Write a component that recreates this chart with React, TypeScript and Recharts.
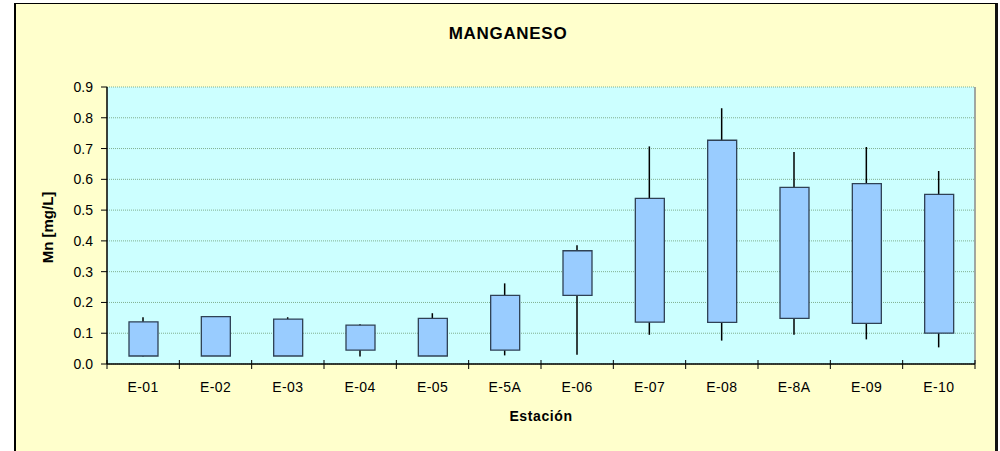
import React from "react";
import { ComposedChart, Bar, XAxis, YAxis, CartesianGrid, ReferenceLine } from "recharts";

// Mn por estación: mínimo, caja (inferior/superior) y máximo
const stations = ["E-01", "E-02", "E-03", "E-04", "E-05", "E-5A", "E-06", "E-07", "E-08", "E-8A", "E-09", "E-10"];
const minVals = [0.024, 0.026, 0.026, 0.024, 0.026, 0.028, 0.030, 0.095, 0.076, 0.095, 0.080, 0.054];
const boxLow = [0.026, 0.026, 0.026, 0.045, 0.026, 0.045, 0.223, 0.136, 0.135, 0.148, 0.132, 0.100];
const boxHigh = [0.137, 0.154, 0.146, 0.126, 0.148, 0.223, 0.368, 0.538, 0.727, 0.574, 0.586, 0.551];
const maxVals = [0.152, 0.154, 0.152, 0.129, 0.165, 0.262, 0.386, 0.707, 0.831, 0.689, 0.705, 0.627];
const yTicks = [0, 0.1, 0.2, 0.3, 0.4, 0.5, 0.6, 0.7, 0.8, 0.9];

const FONT = "Arial, 'Liberation Sans', sans-serif";
const X_TICK_MARGIN = 18;

const rows = stations.map((name, i) => ({
  name,
  whisker: [minVals[i], maxVals[i]],
  box: [boxLow[i], boxHigh[i]],
}));

// vertical line through the middle of the range bar
const Whisker = (props: any) => {
  const { x, y, width, height } = props;
  const cx = x + width / 2;
  return <line x1={cx} y1={y} x2={cx} y2={y + height} stroke="#000" strokeWidth={1.5} />;
};

// category label plus Excel-style tick marks on the category boundaries
const StationTick = (props: any) => {
  const { x, y, payload, index, visibleTicksCount, width } = props;
  const band = (typeof width === "number" ? width : 868) / (visibleTicksCount || stations.length);
  const axisY = y - X_TICK_MARGIN;
  const left = x - band / 2;
  const right = x + band / 2;
  return (
    <g>
      <line x1={left} y1={axisY - 4} x2={left} y2={axisY + 5} stroke="#000" />
      {index === (visibleTicksCount || stations.length) - 1 && (
        <line x1={right} y1={axisY - 4} x2={right} y2={axisY + 5} stroke="#000" />
      )}
      <text x={x} y={y} dy="0.71em" textAnchor="middle" fill="#000" fontSize={14} fontFamily={FONT} letterSpacing={0.4}>
        {payload.value}
      </text>
    </g>
  );
};

export default function App() {
  return (
    <div style={{ position: "absolute", left: 0, top: 0, width: 1000, height: 451, background: "#fff", overflow: "hidden", fontFamily: FONT }}>
      <div
        style={{
          position: "absolute",
          left: 14,
          top: 3,
          width: 979,
          height: 470,
          background: "#FFFFCC",
          borderLeft: "2px solid #000",
          borderTop: "1.5px solid #000",
          borderRight: "3px solid #111",
        }}
      />
      <div style={{ position: "absolute", left: 0, top: 0 }}>
        <ComposedChart width={1000} height={451} data={rows} margin={{ top: 87, right: 25, left: 47, bottom: 57 }}>
          <CartesianGrid vertical={false} fill="#CCFFFF" stroke="#80b090" strokeDasharray="1 1" />
          <XAxis
            xAxisId={0}
            dataKey="name"
            height={30}
            axisLine={{ stroke: "#000", strokeWidth: 1.5 }}
            tickLine={false}
            tickSize={0}
            tickMargin={X_TICK_MARGIN}
            interval={0}
            tick={<StationTick />}
          />
          <XAxis xAxisId="w" dataKey="name" hide />
          <YAxis
            domain={[0, 0.9]}
            ticks={yTicks}
            width={60}
            tickFormatter={(v: number) => v.toFixed(1)}
            axisLine={{ stroke: "#000", strokeWidth: 1.5 }}
            tickLine={{ stroke: "#000" }}
            tickSize={6}
            tickMargin={8}
            tick={{ fill: "#000", fontSize: 14, fontFamily: FONT }}
          />
          <ReferenceLine x={stations[stations.length - 1]} position="end" stroke="#8a8a8a" strokeWidth={1.5} />
          <Bar xAxisId="w" dataKey="whisker" barSize={10} shape={<Whisker />} isAnimationActive={false} />
          <Bar xAxisId={0} dataKey="box" barSize={29} fill="#99CCFF" stroke="#2f4155" strokeWidth={1.3} isAnimationActive={false} />
        </ComposedChart>
      </div>
      <svg width={1000} height={451} style={{ position: "absolute", left: 0, top: 0, pointerEvents: "none" }}>
        <text x={508} y={38.7} textAnchor="middle" fontFamily={FONT} fontSize={17} fontWeight="bold" letterSpacing={0.7} fill="#000">
          MANGANESO
        </text>
        <text
          x={53}
          y={227.5}
          textAnchor="middle"
          transform="rotate(-90, 53, 227.5)"
          fontFamily={FONT}
          fontSize={15}
          fontWeight="bold"
          fill="#000"
        >
          Mn [mg/L]
        </text>
        <text x={541} y={421} textAnchor="middle" fontFamily={FONT} fontSize={14} fontWeight="bold" letterSpacing={0.6} fill="#000">
          Estación
        </text>
      </svg>
    </div>
  );
}
